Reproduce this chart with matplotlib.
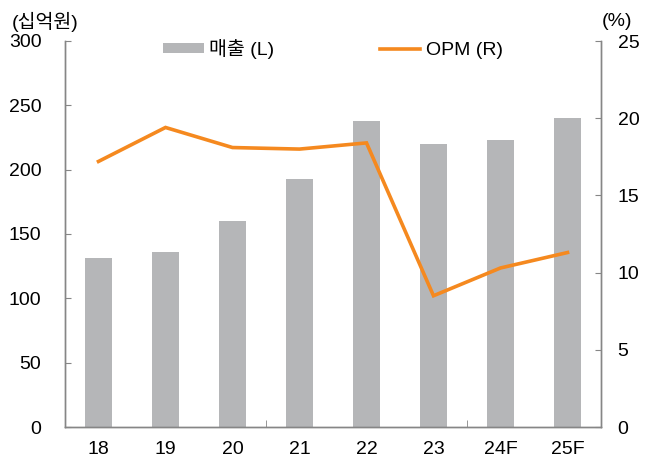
import matplotlib
matplotlib.use("Agg")
import matplotlib.pyplot as plt
from matplotlib.patches import Patch
from matplotlib.lines import Line2D
import numpy as np

plt.rcParams['font.family'] = ['Liberation Sans', 'Noto Sans CJK KR', 'DejaVu Sans']

# data
years = ["18", "19", "20", "21", "22", "23", "24F", "25F"]
sales = [131, 136, 160, 193, 238, 220, 223, 240]          # 십억원, left axis
opm = [17.2, 19.4, 18.1, 18.0, 18.4, 8.5, 10.3, 11.3]     # %, right axis

bar_color = "#b5b6b8"
line_color = "#f5891f"
spine_color = "#868686"

fig = plt.figure(figsize=(6.49, 4.57), dpi=100)
ax = fig.add_axes([65 / 649, 30 / 457, 536 / 649, 386 / 457])
ax2 = ax.twinx()

x = np.arange(len(years))
ax.bar(x, sales, width=0.40, color=bar_color, zorder=2)
ax2.plot(x, opm, color=line_color, linewidth=2.6, solid_joinstyle="miter", zorder=3)

ax.set_xlim(-0.5, len(years) - 0.5)
ax.set_ylim(0, 300)
ax.set_yticks(np.arange(0, 301, 50))
ax2.set_ylim(0, 25)
ax2.set_yticks(np.arange(0, 26, 5))

ax.set_xticks(x)
ax.set_xticklabels(years)
ax.set_xticks([2.5, 5.5], minor=True)
ax.tick_params(axis="x", which="major", length=0, pad=10, labelsize=14)
ax.tick_params(axis="x", which="minor", direction="in", length=5, color=spine_color)
ax.tick_params(axis="y", direction="in", length=4, color=spine_color, pad=17, labelsize=14)
ax2.tick_params(axis="y", direction="in", length=4, color=spine_color, pad=12, labelsize=14)

for a in (ax, ax2):
    a.spines["top"].set_visible(False)
    for s in ("left", "right", "bottom"):
        a.spines[s].set_color(spine_color)
        a.spines[s].set_linewidth(1.0)

fig.text(45 / 649, 1 - 22 / 457, "(십억원)", ha="center", va="center", fontsize=14)
fig.text(617 / 649, 1 - 22 / 457, "(%)", ha="center", va="center", fontsize=14)

handles = [Patch(facecolor=bar_color, edgecolor="none", label="매출 (L)"),
           Line2D([0], [0], color=line_color, linewidth=2.6, label="OPM (R)")]
ax2.legend(handles=handles, loc="upper center", bbox_to_anchor=(0.5, 1.03), ncol=2,
           frameon=False, fontsize=14, handlelength=2.1, handleheight=0.45,
           handletextpad=0.3, columnspacing=5.4, borderpad=0)

fig.savefig("out.png", dpi=100)
